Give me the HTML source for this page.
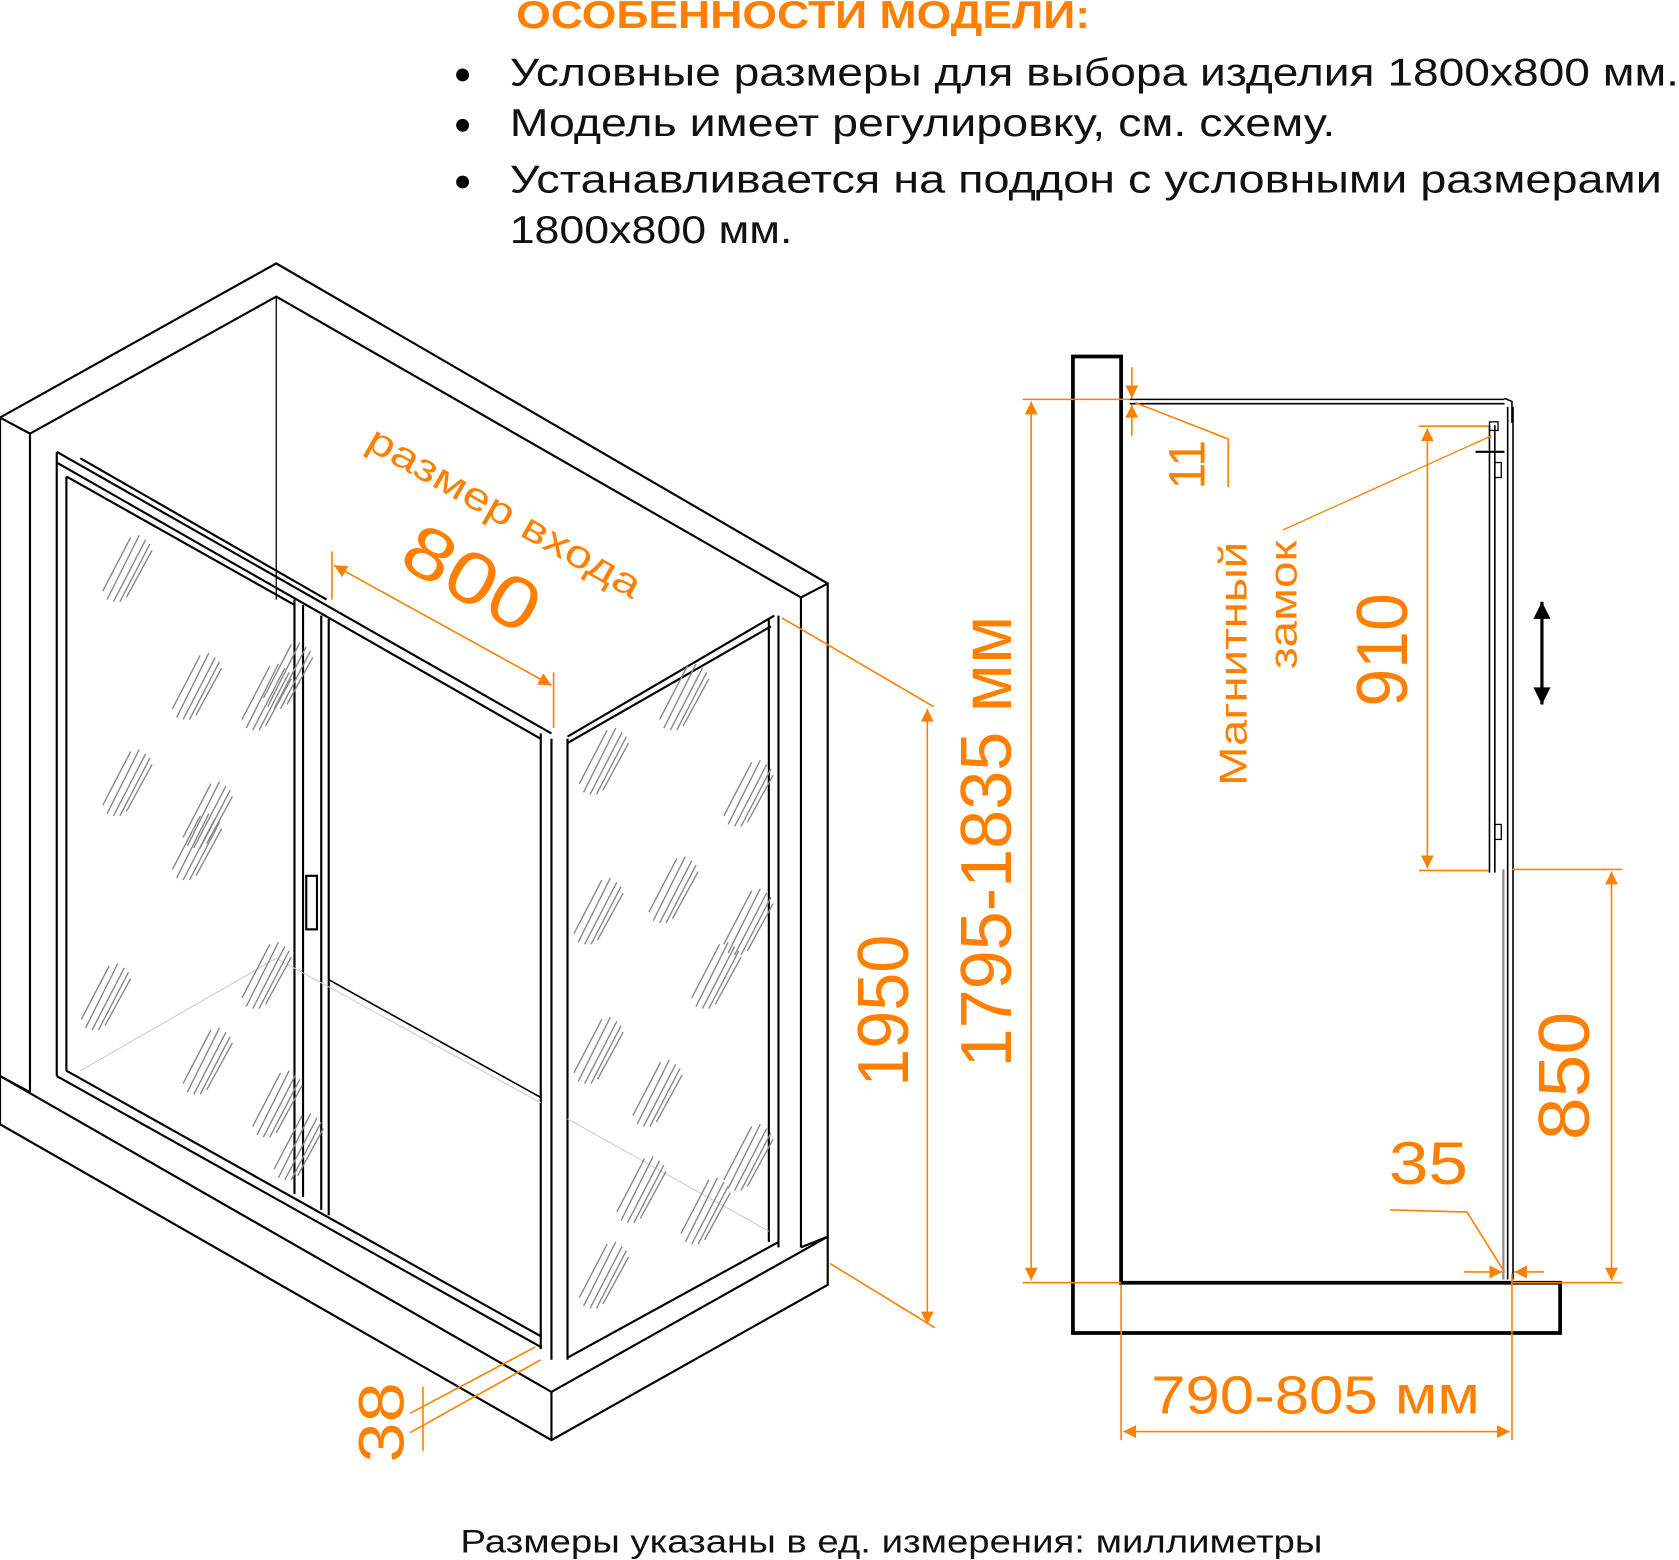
<!DOCTYPE html>
<html><head><meta charset="utf-8"><style>
html,body{margin:0;padding:0;background:#fff;}
svg{display:block;}
text{font-family:"Liberation Sans",sans-serif;}
</style></head><body>
<svg width="1679" height="1560" viewBox="0 0 1568 1457" preserveAspectRatio="none" xmlns="http://www.w3.org/2000/svg">
<defs>
<marker id="a" viewBox="0 0 10 10" refX="10" refY="5" markerWidth="22" markerHeight="12" orient="auto-start-reverse" markerUnits="userSpaceOnUse"><path d="M0,0L10,5L0,10z" fill="#ff8000"/></marker>
<marker id="b" viewBox="0 0 10 10" refX="10" refY="5" markerWidth="20" markerHeight="16" orient="auto-start-reverse" markerUnits="userSpaceOnUse"><path d="M0,0L10,5L0,10z" fill="#000"/></marker>
<g id="h" stroke="#888" stroke-width="1.3">
<line x1="0" y1="60" x2="30" y2="0"/><line x1="6" y1="62" x2="36" y2="4"/><line x1="12" y1="62" x2="40" y2="8"/><line x1="-4" y1="52" x2="22" y2="2"/><line x1="18" y1="58" x2="42" y2="14"/>
</g>
</defs>

<!-- header -->
<text x="482" y="26" font-size="36" font-weight="bold" fill="#ff8000" textLength="536" lengthAdjust="spacingAndGlyphs">ОСОБЕННОСТИ МОДЕЛИ:</text>
<g font-size="36" fill="#111">
<circle cx="432" cy="70" r="6" fill="#000"/><text x="476" y="80" textLength="1092" lengthAdjust="spacingAndGlyphs">Условные размеры для выбора изделия 1800х800 мм.</text>
<circle cx="432" cy="117" r="6" fill="#000"/><text x="476" y="127" textLength="771" lengthAdjust="spacingAndGlyphs">Модель имеет регулировку, см. схему.</text>
<circle cx="432" cy="170" r="6" fill="#000"/><text x="476" y="180" textLength="1076" lengthAdjust="spacingAndGlyphs">Устанавливается на поддон с условными размерами</text>
<text x="476" y="227" textLength="264" lengthAdjust="spacingAndGlyphs">1800х800 мм.</text>
</g>

<!-- left iso drawing -->
<g fill="none" stroke="#000" stroke-width="2">
<path d="M0,390 L258,246 L773,545 L773,1160"/>
<path d="M0,390 L0,1050 L515,1345 L773,1200 L773,1160"/>
<path d="M0,390 L28,405 L258,277 L748,558 L773,545"/>
<line x1="28" y1="405" x2="28" y2="1020"/>
<line x1="748" y1="558" x2="748" y2="1165"/>
<path d="M0,1005 L515,1300 L773,1155"/>
<line x1="515" y1="1300" x2="515" y2="1345"/>
<path d="M28,1020 L0,1005"/>
<path d="M748,1165 L773,1155"/>
<line x1="258" y1="277" x2="258" y2="560" stroke-width="1.2"/>
<path d="M53,422 L515,685 M53,432 L505,690 M62,445 L275,565 M75,428 L305,560"/>
<path d="M53,422 L53,1005 M62,445 L62,1000"/>
<path d="M53,1005 L505,1258 M62,1000 L505,1248"/>
<path d="M275,560 L275,1115 M283,565 L283,1118 M300,575 L300,1130 M307,578 L307,1135"/>
<path d="M505,685 L505,1260 M515,690 L515,1270 M530,690 L530,1270"/>
<path d="M530,688 L723,575 M530,694 L720,585"/>
<path d="M718,578 L718,1160 M727,575 L727,1165"/>
<path d="M530,1268 L727,1160"/>
<path d="M307,915 L505,1025" stroke-width="1.5"/>
<rect x="286" y="818" width="10" height="50" stroke-width="2"/>
</g>
<g stroke="#ccc" stroke-width="1" fill="none"><path d="M75,1000 L258,895 L505,1030 M530,1045 L718,1150"/></g>
<g>
<use href="#h" x="100" y="500"/><use href="#h" x="165" y="610"/><use href="#h" x="100" y="700"/><use href="#h" x="175" y="730"/><use href="#h" x="165" y="760"/>
<use href="#h" x="230" y="620"/><use href="#h" x="250" y="600"/><use href="#h" x="80" y="900"/><use href="#h" x="175" y="960"/><use href="#h" x="230" y="880"/>
<use href="#h" x="240" y="1000"/><use href="#h" x="260" y="1040"/>
<use href="#h" x="545" y="680"/><use href="#h" x="620" y="620"/><use href="#h" x="680" y="710"/><use href="#h" x="540" y="820"/>
<use href="#h" x="610" y="800"/><use href="#h" x="650" y="880"/><use href="#h" x="540" y="950"/><use href="#h" x="595" y="990"/>
<use href="#h" x="680" y="830"/><use href="#h" x="680" y="1050"/><use href="#h" x="580" y="1080"/><use href="#h" x="545" y="1160"/><use href="#h" x="640" y="1100"/>
</g>

<!-- left dims -->
<g stroke="#ff8000" stroke-width="1.5" fill="none">
<line x1="310" y1="515" x2="310" y2="560"/><line x1="517" y1="628" x2="517" y2="680"/>
<line x1="312" y1="528" x2="515" y2="640" marker-start="url(#a)" marker-end="url(#a)"/>
<line x1="730" y1="577" x2="872" y2="660"/><line x1="775" y1="1180" x2="873" y2="1240"/>
<line x1="866" y1="662" x2="866" y2="1237" marker-start="url(#a)" marker-end="url(#a)"/>
<line x1="383" y1="1320" x2="500" y2="1258"/><line x1="383" y1="1338" x2="505" y2="1270"/>
<line x1="395" y1="1295" x2="395" y2="1355"/>
</g>
<g fill="#ff8000">
<text transform="translate(340,418) rotate(29.5)" font-size="36" textLength="288" lengthAdjust="spacingAndGlyphs">размер входа</text>
<text transform="translate(370,527) rotate(29.5)" font-size="68" textLength="136" lengthAdjust="spacingAndGlyphs">800</text>
<text transform="translate(848,1015) rotate(-90)" font-size="68" textLength="142" lengthAdjust="spacingAndGlyphs">1950</text>
<text transform="translate(944,997) rotate(-90)" font-size="68" textLength="422" lengthAdjust="spacingAndGlyphs">1795-1835 мм</text>
<text transform="translate(377,1366) rotate(-90)" font-size="60" textLength="75" lengthAdjust="spacingAndGlyphs">38</text>
</g>

<!-- right drawing -->
<g fill="none" stroke="#000">
<path d="M1002,333 L1047,333 L1047,1198 L1457,1198 L1457,1245 L1002,1245 Z" stroke-width="3.5"/>
<path d="M1055,373 L1405,373 M1055,377 L1405,377" stroke-width="1.5"/>
<path d="M1405,372 L1412,375 L1412,395 M1408,380 L1408,1195 M1413,380 L1413,1195" stroke-width="1.5"/>
<path d="M1391,397 L1391,815 M1396,397 L1396,815" stroke-width="1.5"/>
<rect x="1391" y="394" width="8" height="8" stroke-width="1.2"/>
<line x1="1378" y1="422" x2="1405" y2="422" stroke-width="2"/>
<rect x="1396" y="432" width="6" height="14" stroke-width="1.2"/>
<rect x="1396" y="770" width="6" height="14" stroke-width="1.2"/>
<path d="M1404,812 L1404,1195" stroke="#888" stroke-width="2"/>
<line x1="1440" y1="562" x2="1440" y2="658" stroke-width="3" marker-start="url(#b)" marker-end="url(#b)"/>
</g>
<g stroke="#ff8000" stroke-width="1.5" fill="none">
<line x1="955" y1="373" x2="1055" y2="373"/><line x1="955" y1="1198" x2="1047" y2="1198"/>
<line x1="963" y1="375" x2="963" y2="1196" marker-start="url(#a)" marker-end="url(#a)"/>
<line x1="1057" y1="343" x2="1057" y2="372" marker-end="url(#a)"/><line x1="1057" y1="407" x2="1057" y2="378" marker-end="url(#a)"/>
<path d="M1060,376 L1147,410 L1147,455"/>
<line x1="1325" y1="398" x2="1390" y2="398"/><line x1="1325" y1="813" x2="1390" y2="813"/>
<line x1="1333" y1="400" x2="1333" y2="811" marker-start="url(#a)" marker-end="url(#a)"/>
<path d="M1198,495 L1393,407" stroke-width="1.2"/>
<line x1="1412" y1="812" x2="1515" y2="812"/><line x1="1412" y1="1198" x2="1515" y2="1198"/>
<line x1="1505" y1="814" x2="1505" y2="1196" marker-start="url(#a)" marker-end="url(#a)"/>
<path d="M1298,1130 L1370,1132 L1405,1188"/>
<line x1="1367" y1="1188" x2="1403" y2="1188" marker-end="url(#a)"/><line x1="1442" y1="1188" x2="1414" y2="1188" marker-end="url(#a)"/>
<line x1="1047" y1="1200" x2="1047" y2="1345"/><line x1="1412" y1="1190" x2="1412" y2="1345"/>
<line x1="1049" y1="1337" x2="1410" y2="1337" marker-start="url(#a)" marker-end="url(#a)"/>
</g>
<g fill="#ff8000">
<text transform="translate(1125,457) rotate(-90)" font-size="48" textLength="46" lengthAdjust="spacingAndGlyphs">11</text>
<text transform="translate(1164,734) rotate(-90)" font-size="36" textLength="228" lengthAdjust="spacingAndGlyphs">Магнитный</text>
<text transform="translate(1211,625) rotate(-90)" font-size="36" textLength="120" lengthAdjust="spacingAndGlyphs">замок</text>
<text transform="translate(1314,660) rotate(-90)" font-size="68" textLength="106" lengthAdjust="spacingAndGlyphs">910</text>
<text transform="translate(1484,1065) rotate(-90)" font-size="68" textLength="120" lengthAdjust="spacingAndGlyphs">850</text>
<text x="1297" y="1106" font-size="56" textLength="74" lengthAdjust="spacingAndGlyphs">35</text>
<text x="1075" y="1320" font-size="50" textLength="307" lengthAdjust="spacingAndGlyphs">790-805 мм</text>
</g>

<text x="430" y="1450" font-size="30" fill="#111" textLength="805" lengthAdjust="spacingAndGlyphs">Размеры указаны в ед. измерения: миллиметры</text>
</svg>
</body></html>
